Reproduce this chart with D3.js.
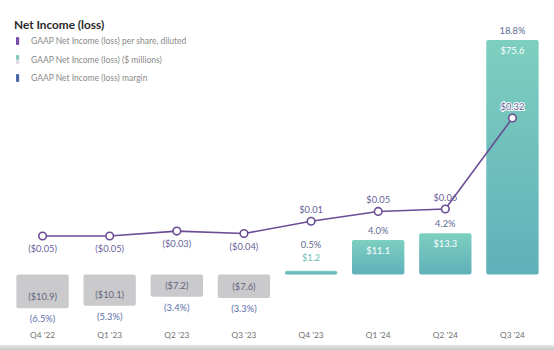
<!DOCTYPE html>
<html><head><meta charset="utf-8">
<script src="https://cdn.jsdelivr.net/npm/d3@7/dist/d3.min.js"></script>
<style>
html,body{margin:0;padding:0;background:#fff;}
svg{display:block;font-family:Lato,"Open Sans",sans-serif;}
</style></head>
<body><svg id="c" width="554" height="350"></svg>
<script>
const quarters = ["Q4 '22","Q1 '23","Q2 '23","Q3 '23","Q4 '23","Q1 '24","Q2 '24","Q3 '24"];
const netIncome = [-10.9,-10.1,-7.2,-7.6,1.2,11.1,13.3,75.6];
const margin = [-6.5,-5.3,-3.4,-3.3,0.5,4.0,4.2,18.8];
const eps = [-0.05,-0.05,-0.03,-0.04,0.01,0.05,0.06,0.32];
const legendLabels = ["GAAP Net Income (loss) per share, diluted","GAAP Net Income (loss) ($ millions)","GAAP Net Income (loss) margin"];
const title = "Net Income (loss)";

const svg = d3.select("#c");
const defs = svg.append("defs");
const g1 = defs.append("linearGradient").attr("id","teal").attr("x1",0).attr("y1",0).attr("x2",0).attr("y2",1);
g1.append("stop").attr("offset","0%").attr("stop-color","#7dcfbf");
g1.append("stop").attr("offset","100%").attr("stop-color","#60b0ba");
const g2 = defs.append("linearGradient").attr("id","floor").attr("x1",0).attr("y1",0).attr("x2",0).attr("y2",1);
g2.append("stop").attr("offset","0%").attr("stop-color","#e6e6e6");
g2.append("stop").attr("offset","100%").attr("stop-color","#c9c9c9");

const x = d3.scaleBand().domain(quarters).range([9,546]).paddingInner(0.22).paddingOuter(0.11);
const y = d3.scaleLinear().domain([0,75.6]).range([274.5,40]);
const ye = d3.scaleLinear().domain([-0.05,0.06,0.32]).range([236,209,118]);

const fmtMoney = v => v<0 ? "($"+Math.abs(v).toFixed(1)+")" : "$"+v.toFixed(1);
const fmtPct = v => v<0 ? "("+Math.abs(v).toFixed(1)+"%)" : v.toFixed(1)+"%";
const fmtEps = v => v<0 ? "($"+Math.abs(v).toFixed(2)+")" : "$"+v.toFixed(2);

// bottom floor band
svg.append("rect").attr("x",0).attr("y",345).attr("width",554).attr("height",5).attr("fill","url(#floor)");

// title
svg.append("text").attr("x",14).attr("y",29).attr("font-size",11.8).attr("font-weight",700).attr("fill","#2a2a2a").text(title);

// legend
const lg = svg.append("g");
const rowY = [41,60,78];
lg.append("rect").attr("x",16).attr("y",rowY[0]-4).attr("width",3.2).attr("height",8).attr("rx",1).attr("fill","#7b4ea8");
lg.append("rect").attr("x",16).attr("y",rowY[1]-5).attr("width",3.2).attr("height",5).attr("rx",1).attr("fill","#86c9bb");
lg.append("rect").attr("x",16).attr("y",rowY[1]).attr("width",3.2).attr("height",4).attr("rx",1).attr("fill","#dcd8e6");
lg.append("rect").attr("x",16).attr("y",rowY[2]-4).attr("width",3.2).attr("height",8).attr("rx",1).attr("fill","#4c68a6");
legendLabels.forEach((t,i)=>{
  lg.append("text").attr("x",31).attr("y",rowY[i]+3).attr("font-size",8.5).attr("fill","#8a8a8a").text(t);
});

// bars
const data = quarters.map((q,i)=>({q,v:netIncome[i],m:margin[i],e:eps[i]}));
svg.append("g").selectAll("rect").data(data).join("rect")
  .attr("x",d=>x(d.q)).attr("width",x.bandwidth())
  .attr("y",d=>Math.min(y(d.v),y(0)))
  .attr("height",d=>Math.max(Math.abs(y(d.v)-y(0)),3.5))
  .attr("rx",2)
  .attr("fill",d=>d.v<0?"#cacacd":"url(#teal)");

const cx = d => x(d.q)+x.bandwidth()/2;
// bar value labels
svg.append("g").selectAll("text").data(data).join("text")
  .attr("x",cx).attr("text-anchor","middle").attr("font-size",9.3)
  .attr("y",d=>{
    if(d.v<0) return y(d.v)-8;
    const h = y(0)-y(d.v);
    if(h<20) return y(d.v)-10;
    return y(d.v)+14;
  })
  .attr("fill",d=> d.v<0 ? "#5f6478" : ((y(0)-y(d.v))<20 ? "#6cbfb6" : "#ffffff"))
  .text(d=>fmtMoney(d.v));

// margin labels
svg.append("g").selectAll("text").data(data).join("text")
  .attr("x",cx).attr("text-anchor","middle").attr("font-size",9.3)
  .attr("y",d=>{
    if(d.v<0) return y(d.v)+14;
    const h = y(0)-y(d.v);
    if(h<20) return y(d.v)-23;
    return y(d.v)-6;
  })
  .attr("fill",d=>d.v<0?"#5b6ea8":"#5c6a92")
  .text(d=>fmtPct(d.m));

// EPS line
const line = d3.line().x(cx).y(d=>ye(d.e));
svg.append("path").datum(data).attr("d",line).attr("fill","none").attr("stroke","#6a4d95").attr("stroke-width",1.6);
svg.append("g").selectAll("circle").data(data).join("circle")
  .attr("cx",cx).attr("cy",d=>ye(d.e)).attr("r",3.8)
  .attr("fill","#fff").attr("stroke","#6a4d95").attr("stroke-width",1.6);
svg.append("g").selectAll("text").data(data).join("text")
  .attr("x",cx).attr("text-anchor","middle").attr("font-size",9.3)
  .attr("y",d=>d.e<0 ? ye(d.e)+16 : ye(d.e)-8)
  .attr("fill","#66609a")
  .attr("stroke",(d,i)=> i===data.length-1 ? "#fff" : "none")
  .attr("stroke-width",2).attr("paint-order","stroke")
  .text(d=>fmtEps(d.e));

// x labels
svg.append("g").selectAll("text").data(quarters).join("text")
  .attr("x",d=>x(d)+x.bandwidth()/2).attr("y",338).attr("text-anchor","middle")
  .attr("font-size",8.3).attr("fill","#6f6f6f").text(d=>d);
</script></body></html>
